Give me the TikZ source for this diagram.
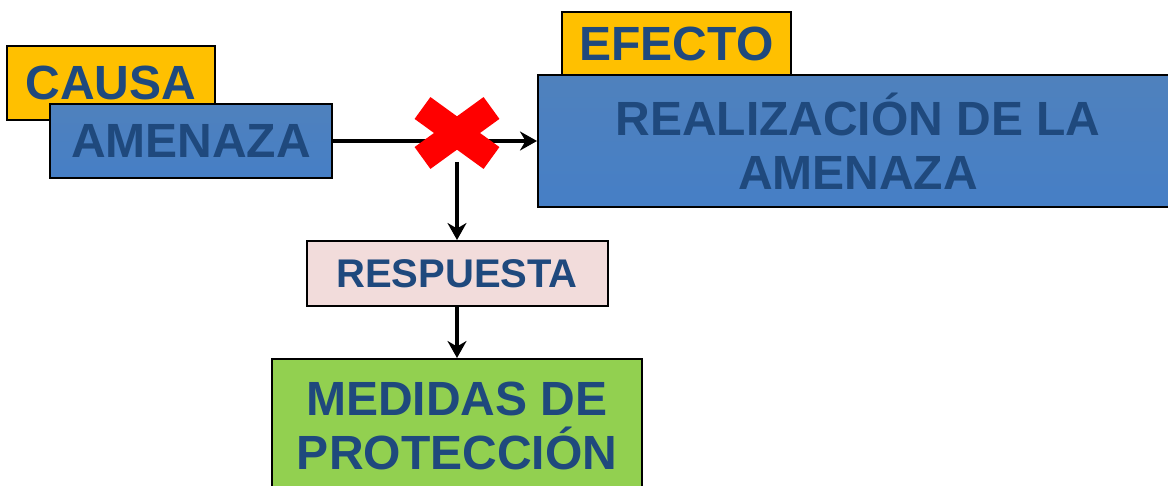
\documentclass[tikz,border=0pt]{standalone}
\usepackage{fontspec}
\setmainfont{Liberation Sans}
\usetikzlibrary{shapes.misc, arrows.meta, positioning}

\definecolor{tagyellow}{HTML}{FFC000}
\definecolor{textblue}{HTML}{1F497D}
\definecolor{boxpink}{HTML}{F2DCDB}
\definecolor{boxgreen}{HTML}{92D050}
\definecolor{bluetop}{HTML}{4F81BD}
\definecolor{bluemid}{HTML}{3C6AA5}
\definecolor{bluebot}{HTML}{467FC6}

\begin{document}
\begin{tikzpicture}[
    x=1pt, y=1pt,
    node distance=50pt,
    line width=2pt,
    >={Stealth[length=17pt, width=19pt]},
    every node/.style={font=\bfseries\fontsize{48}{54}\selectfont, align=center, text=textblue, inner sep=0pt},
    tag/.style={draw, fill=tagyellow},
    block/.style={draw, top color=bluetop, middle color=bluemid, bottom color=bluebot},
    arrow/.style={->, line width=4pt}
]
\useasboundingbox (0,0) rectangle (1168,486);
\clip (0,0) rectangle (1168,486);
% causa / amenaza
\node[tag, minimum width=208, minimum height=74] (causa) at (111,403) {CAUSA};
\node[block, minimum width=282, minimum height=74] (amen) at (191,345) {AMENAZA};
% efecto / realizacion
\node[tag, minimum width=229, minimum height=63] (efecto) at (676.5,442.5) {EFECTO};
\node[block, minimum width=640, minimum height=132] (real) at (858,345) {REALIZACIÓN DE LA\\AMENAZA};
\draw[arrow] (amen) -- (real);
% bloqueo
\node[cross out, draw=red, line width=27pt, outer sep=0pt, minimum width=69, minimum height=50] (cut) at (457,353) {};
\node[draw, fill=boxpink, minimum width=301, minimum height=65, font=\bfseries\fontsize{40}{46}\selectfont, below=82pt of cut] (resp) {RESPUESTA};
\node[draw, fill=boxgreen, minimum width=370, minimum height=134, below=51pt of resp] (med) {MEDIDAS DE\\PROTECCIÓN};
\draw[arrow, shorten <=4pt] (cut) -- (resp);
\draw[arrow] (resp) -- (med);
\end{tikzpicture}
\end{document}
